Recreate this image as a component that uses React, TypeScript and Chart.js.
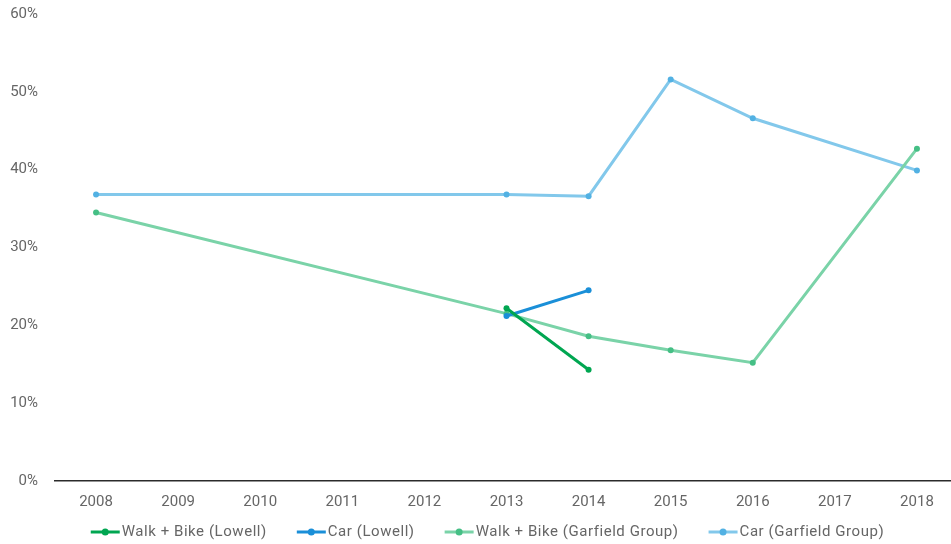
import React, { useEffect, useRef } from "react";
import { Chart, registerables } from "chart.js";

Chart.register(...registerables);

const years = ["2008", "2009", "2010", "2011", "2012", "2013", "2014", "2015", "2016", "2017", "2018"];
const walkBikeLowell = [null, null, null, null, null, 22.2, 14.3, null, null, null, null];
const carLowell = [null, null, null, null, null, 21.2, 24.5, null, null, null, null];
const walkBikeGarfield = [34.5, null, null, null, null, 21.5, 18.6, 16.8, 15.2, null, 42.7];
const carGarfield = [36.8, null, null, null, null, 36.8, 36.6, 51.6, 46.6, null, 39.9];
const seriesNames = ["Walk + Bike (Lowell)", "Car (Lowell)", "Walk + Bike (Garfield Group)", "Car (Garfield Group)"];
const yTicks = [0, 10, 20, 30, 40, 50, 60];

const lineColors = ["#00A651", "#1A8FD8", "#7AD3A8", "#82C8EB"];
const pointColors = ["#00A651", "#1A8FD8", "#45BF85", "#52B1E3"];

const FONT = "Roboto, 'DejaVu Sans', sans-serif";
const TEXT = "#666666";

const customLegend = {
  id: "customLegend",
  afterDraw(chart: any) {
    const ctx = chart.ctx;
    const lineLen = 29;
    const gap = 2;
    const spacing = 30;
    ctx.save();
    ctx.font = `15px ${FONT}`;
    try { (ctx as any).letterSpacing = "0.55px"; } catch (e) {}
    const items = chart.data.datasets.map((d: any, i: number) => ({
      label: d.label,
      w: lineLen + gap + ctx.measureText(d.label).width,
      i,
    }));
    const total = items.reduce((s: number, it: any) => s + it.w, 0) + spacing * (items.length - 1);
    const center = 487.5;
    const y = 532;
    let x = center - total / 2;
    items.forEach((it: any) => {
      ctx.strokeStyle = lineColors[it.i];
      ctx.lineWidth = 3;
      ctx.beginPath();
      ctx.moveTo(x, y);
      ctx.lineTo(x + lineLen, y);
      ctx.stroke();
      ctx.fillStyle = pointColors[it.i];
      ctx.beginPath();
      ctx.arc(x + lineLen / 2, y, 3.5, 0, Math.PI * 2);
      ctx.fill();
      ctx.fillStyle = TEXT;
      ctx.textBaseline = "middle";
      ctx.textAlign = "left";
      ctx.fillText(it.label, x + lineLen + gap, y);
      x += it.w + spacing;
    });
    ctx.restore();
  },
};

export default function App() {
  const ref = useRef<HTMLCanvasElement>(null);
  useEffect(() => {
    document.body.style.margin = "0";
    const seriesData = [walkBikeLowell, carLowell, walkBikeGarfield, carGarfield];
    const chart = new Chart(ref.current!, {
      type: "line",
      data: {
        labels: years,
        datasets: seriesData.map((d, i) => ({
          label: seriesNames[i],
          data: d,
          borderColor: lineColors[i],
          backgroundColor: pointColors[i],
          pointBackgroundColor: pointColors[i],
          pointBorderColor: pointColors[i],
          borderWidth: 3,
          pointRadius: 3,
          pointBorderWidth: 0,
          spanGaps: true,
          tension: 0,
        })),
      },
      options: {
        responsive: false,
        animation: false,
        layout: { padding: { top: 14, left: 8, right: 0, bottom: 29 } },
        plugins: {
          legend: { display: false },
          tooltip: { enabled: false },
        },
        scales: {
          x: {
            offset: true,
            grid: { display: false },
            border: { display: true, color: "#2b2b2b", width: 1.5 },
            afterFit: (axis: any) => {
              axis.paddingLeft = 0;
              axis.paddingRight = 0;
            },
            ticks: { color: TEXT, font: { family: FONT, size: 15 }, padding: 4, maxRotation: 0 },
          },
          y: {
            min: 0,
            max: 60,
            grid: { display: false },
            border: { display: false },
            afterFit: (axis: any) => {
              axis.width = 47;
              axis.paddingTop = 0;
              axis.paddingBottom = 0;
            },
            afterBuildTicks: (axis: any) => {
              axis.ticks = yTicks.map((v) => ({ value: v }));
            },
            ticks: {
              color: TEXT,
              font: { family: FONT, size: 15 },
              padding: 9,
              callback: (v: any) => `${v}%`,
            },
          },
        },
      },
      plugins: [customLegend],
    });
    return () => chart.destroy();
  }, []);
  return (
    <div style={{ width: 951, height: 544, overflow: "hidden" }}>
      <canvas ref={ref} width={962} height={544} style={{ display: "block" }} />
    </div>
  );
}
